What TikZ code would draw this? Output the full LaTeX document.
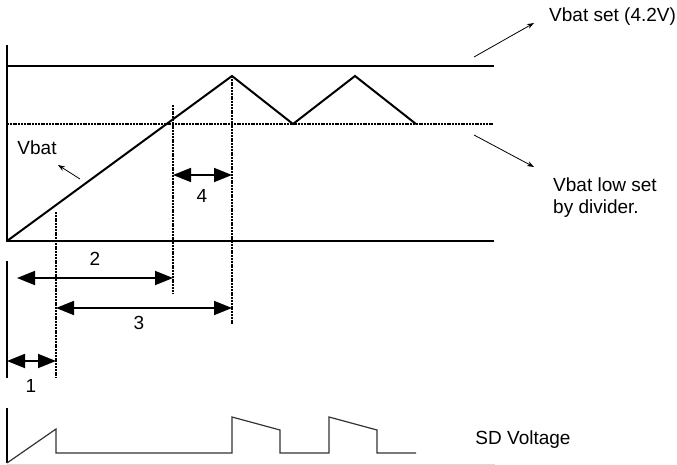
\documentclass[tikz,border=0pt]{standalone}
\usepackage{fontspec}
\setmainfont{Liberation Sans}
\usetikzlibrary{arrows.meta, positioning}

\begin{document}
\begin{tikzpicture}[x=1pt, y=-1pt,
        axis/.style={line width=2pt},
        level/.style={line width=1.2pt},
        marker/.style={line width=2pt, dash pattern=on 2pt off 0.8pt},
        trace/.style={line width=2pt, line join=miter},
        span/.style={line width=1.8pt, {Triangle[length=18pt,width=14pt]}-{Triangle[length=18pt,width=14pt]}},
        pointer/.style={line width=0.8pt, -{Stealth[length=7pt,width=5pt]}},
        sd/.style={line width=1.2pt, draw=black!80},
        lbl/.style={font=\fontsize{19}{22}\selectfont, inner sep=0pt}]
        \useasboundingbox (0,0) rectangle (677,465);

        % axes and levels
        \coordinate (o) at (7,241);
        \coordinate (ytop) at (7,45);
        \coordinate (xend) at (494,241);
        \coordinate (setL) at (7,66);
        \coordinate (setR) at (494,66);
        \coordinate (lowL) at (7,124);
        \coordinate (lowR) at (494,124);
        \draw[axis] (ytop) -- (o) -- (xend);
        \draw[level] (setL) -- (setR);
        \draw[marker] (lowL) -- (lowR);

        % battery voltage
        \coordinate (p1) at (232,76);
        \coordinate (v1) at (293,124);
        \coordinate (p2) at (355,76);
        \coordinate (v2) at (416,124);
        \draw[trace] (o) -- (p1) -- (v1) -- (p2) -- (v2);

        % time markers
        \coordinate (m1a) at (56,212);
        \coordinate (m1b) at (56,378);
        \coordinate (m2a) at (173,105);
        \coordinate (m2b) at (173,294);
        \coordinate (m3a) at (232,76);
        \coordinate (m3b) at (232,325);
        \draw[marker] (m1a) -- (m1b);
        \draw[marker] (m2a) -- (m2b);
        \draw[marker] (m3a) -- (m3b);

        % intervals
        \coordinate (t0a) at (7,261);
        \coordinate (t0b) at (7,378);
        \draw[axis] (t0a) -- (t0b);
        \coordinate (s4a) at (173,175);
        \coordinate (s4b) at (232,175);
        \coordinate (s2a) at (17,278);
        \coordinate (s2b) at (173,278);
        \coordinate (s3a) at (56,308);
        \coordinate (s3b) at (232,308);
        \coordinate (s1a) at (7,361);
        \coordinate (s1b) at (56,361);
        \draw[span] (s4a) -- (s4b);
        \draw[span] (s2a) -- (s2b);
        \draw[span] (s3a) -- (s3b);
        \draw[span] (s1a) -- (s1b);
        \node[lbl] (n4) at (202,196) {4};
        \node[lbl] (n2) at (95,259) {2};
        \node[lbl] (n3) at (139,323) {3};
        \node[lbl] (n1) at (31,386) {1};

        % labels
        \node[lbl] (vbat) at (37,148) {Vbat};
        \coordinate (vbatTail) at (80,179);
        \coordinate (vbatTip) at (58,165);
        \draw[pointer] (vbatTail) -- (vbatTip);

        \node[lbl, anchor=west] (vset) at (549,17) {Vbat set (4.2V)};
        \coordinate (vsetTail) at (474,57);
        \coordinate (vsetTip) at (534,23);
        \draw[pointer] (vsetTail) -- (vsetTip);

        \node[lbl, anchor=north west, align=left] (vlow) at (553,178) {Vbat low set\\by divider.};
        \coordinate (vlowTail) at (474,135);
        \coordinate (vlowTip) at (534,167);
        \draw[pointer] (vlowTail) -- (vlowTip);

        % SD voltage
        \coordinate (sdTop) at (7,408);
        \coordinate (sdO) at (7,463);
        \coordinate (sdEnd) at (495,464);
        \draw[black!15, line width=1pt] (7,464) -- (sdEnd);
        \draw[axis] (sdTop) -- (sdO);
        \draw[sd] (sdO) -- (56,429) -- (56,453) -- (232,453) -- (232,417) -- (280,430)
                -- (280,453) -- (329,453) -- (329,417) -- (377,430) -- (377,453) -- (416,453);
        \node[lbl] (sdv) at (523,440) {SD Voltage};
\end{tikzpicture}
\end{document}
